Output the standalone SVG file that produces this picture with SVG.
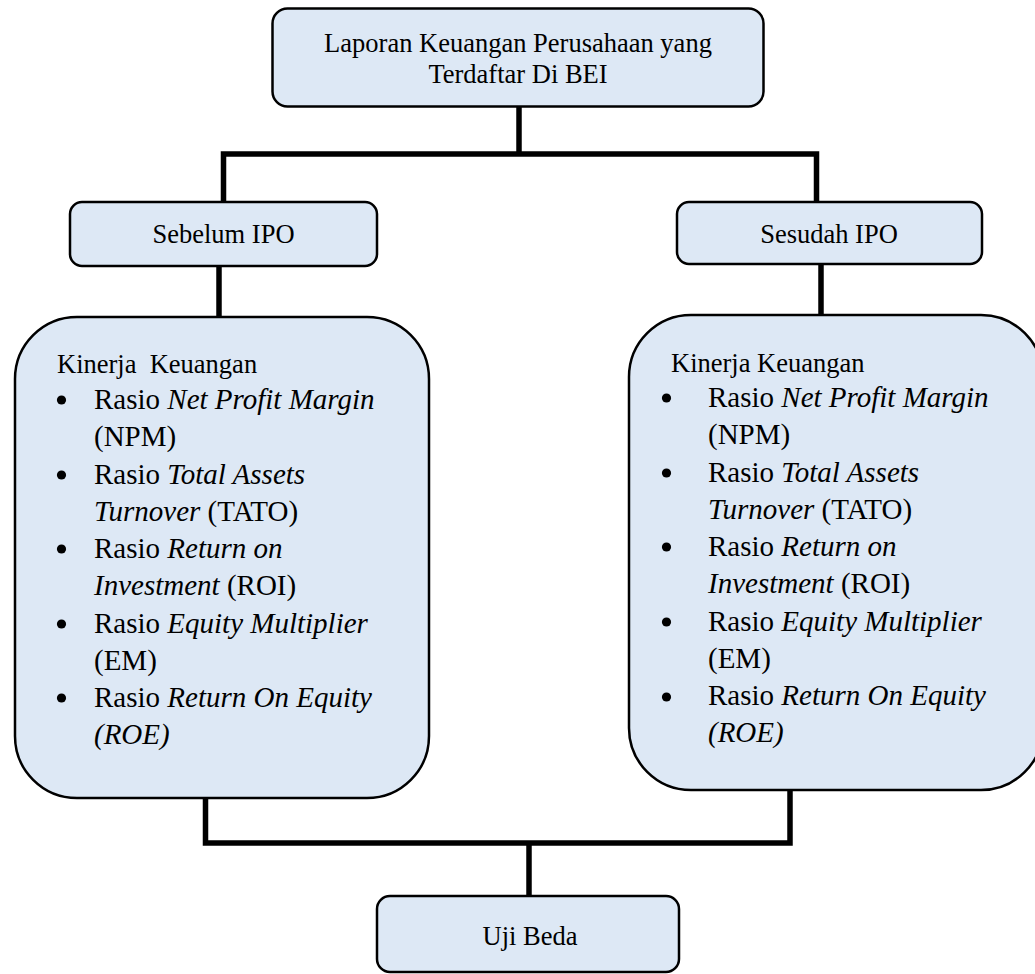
<svg xmlns="http://www.w3.org/2000/svg" width="1035" height="974" viewBox="0 0 1035 974">
<style>
.box{fill:#dde8f5;stroke:#000;stroke-width:2.5}
.conn{fill:none;stroke:#000;stroke-width:5.5;stroke-linejoin:miter;stroke-linecap:butt}
text{font-family:"Liberation Serif","Times New Roman",serif;fill:#000}
.t{font-size:26.5px}
.c{text-anchor:middle}
.b{font-size:29px}
.i{font-style:italic}
.dot{fill:#000}
</style>
<rect width="1035" height="974" fill="#fff"/>
<g id="connectors">
<path class="conn" d="M519,107 V154"/>
<path class="conn" d="M223.5,202 V154 H816.5 V202"/>
<path class="conn" d="M219,266 V317"/>
<path class="conn" d="M821,264 V315"/>
<path class="conn" d="M205.5,798 V843 H790 V790"/>
<path class="conn" d="M529,843 V896"/>
</g>
<g id="node-top">
<rect class="box" x="272.5" y="8.5" width="491" height="98" rx="15"/>
<text class="t c" x="518" y="52">Laporan Keuangan Perusahaan yang</text>
<text class="t c" x="518" y="83">Terdaftar Di BEI</text>
</g>
<g id="node-sebelum">
<rect class="box" x="70" y="202" width="307" height="64" rx="12"/>
<text class="t c" x="223.5" y="243">Sebelum IPO</text>
</g>
<g id="node-sesudah">
<rect class="box" x="677" y="202" width="305" height="62" rx="12"/>
<text class="t c" x="829" y="243">Sesudah IPO</text>
</g>
<g id="node-kinerja-sebelum">
<rect class="box" x="15" y="317" width="414" height="481" rx="62"/>
<text class="t" x="57" y="373" xml:space="preserve">Kinerja  Keuangan</text>
<circle class="dot" cx="61.5" cy="400" r="4.6"/>
<circle class="dot" cx="61.5" cy="475" r="4.6"/>
<circle class="dot" cx="61.5" cy="549" r="4.6"/>
<circle class="dot" cx="61.5" cy="624" r="4.6"/>
<circle class="dot" cx="61.5" cy="698" r="4.6"/>
<text class="b" x="94" y="409">Rasio <tspan class="i">Net Profit Margin</tspan></text>
<text class="b" x="94" y="446">(NPM)</text>
<text class="b" x="94" y="483.5">Rasio <tspan class="i">Total Assets</tspan></text>
<text class="b" x="94" y="520.5"><tspan class="i">Turnover</tspan> (TATO)</text>
<text class="b" x="94" y="558">Rasio <tspan class="i">Return on</tspan></text>
<text class="b" x="94" y="595"><tspan class="i">Investment</tspan> (ROI)</text>
<text class="b" x="94" y="632.5">Rasio <tspan class="i">Equity Multiplier</tspan></text>
<text class="b" x="94" y="669.5">(EM)</text>
<text class="b" x="94" y="707">Rasio <tspan class="i">Return On Equity</tspan></text>
<text class="b i" x="94" y="744">(ROE)</text>
</g>
<g id="node-kinerja-sesudah">
<rect class="box" x="629" y="315" width="414" height="475" rx="62"/>
<text class="t" x="671" y="372">Kinerja Keuangan</text>
<circle class="dot" cx="666.5" cy="398" r="4.6"/>
<circle class="dot" cx="666.5" cy="473" r="4.6"/>
<circle class="dot" cx="666.5" cy="547" r="4.6"/>
<circle class="dot" cx="666.5" cy="622" r="4.6"/>
<circle class="dot" cx="666.5" cy="697" r="4.6"/>
<text class="b" x="708" y="407">Rasio <tspan class="i">Net Profit Margin</tspan></text>
<text class="b" x="708" y="444">(NPM)</text>
<text class="b" x="708" y="481.5">Rasio <tspan class="i">Total Assets</tspan></text>
<text class="b" x="708" y="518.5"><tspan class="i">Turnover</tspan> (TATO)</text>
<text class="b" x="708" y="556">Rasio <tspan class="i">Return on</tspan></text>
<text class="b" x="708" y="593"><tspan class="i">Investment</tspan> (ROI)</text>
<text class="b" x="708" y="630.5">Rasio <tspan class="i">Equity Multiplier</tspan></text>
<text class="b" x="708" y="667.5">(EM)</text>
<text class="b" x="708" y="705">Rasio <tspan class="i">Return On Equity</tspan></text>
<text class="b i" x="708" y="742">(ROE)</text>
</g>
<g id="node-uji">
<rect class="box" x="377" y="896" width="302" height="76" rx="13"/>
<text class="t c" x="530" y="945">Uji Beda</text>
</g>
</svg>
